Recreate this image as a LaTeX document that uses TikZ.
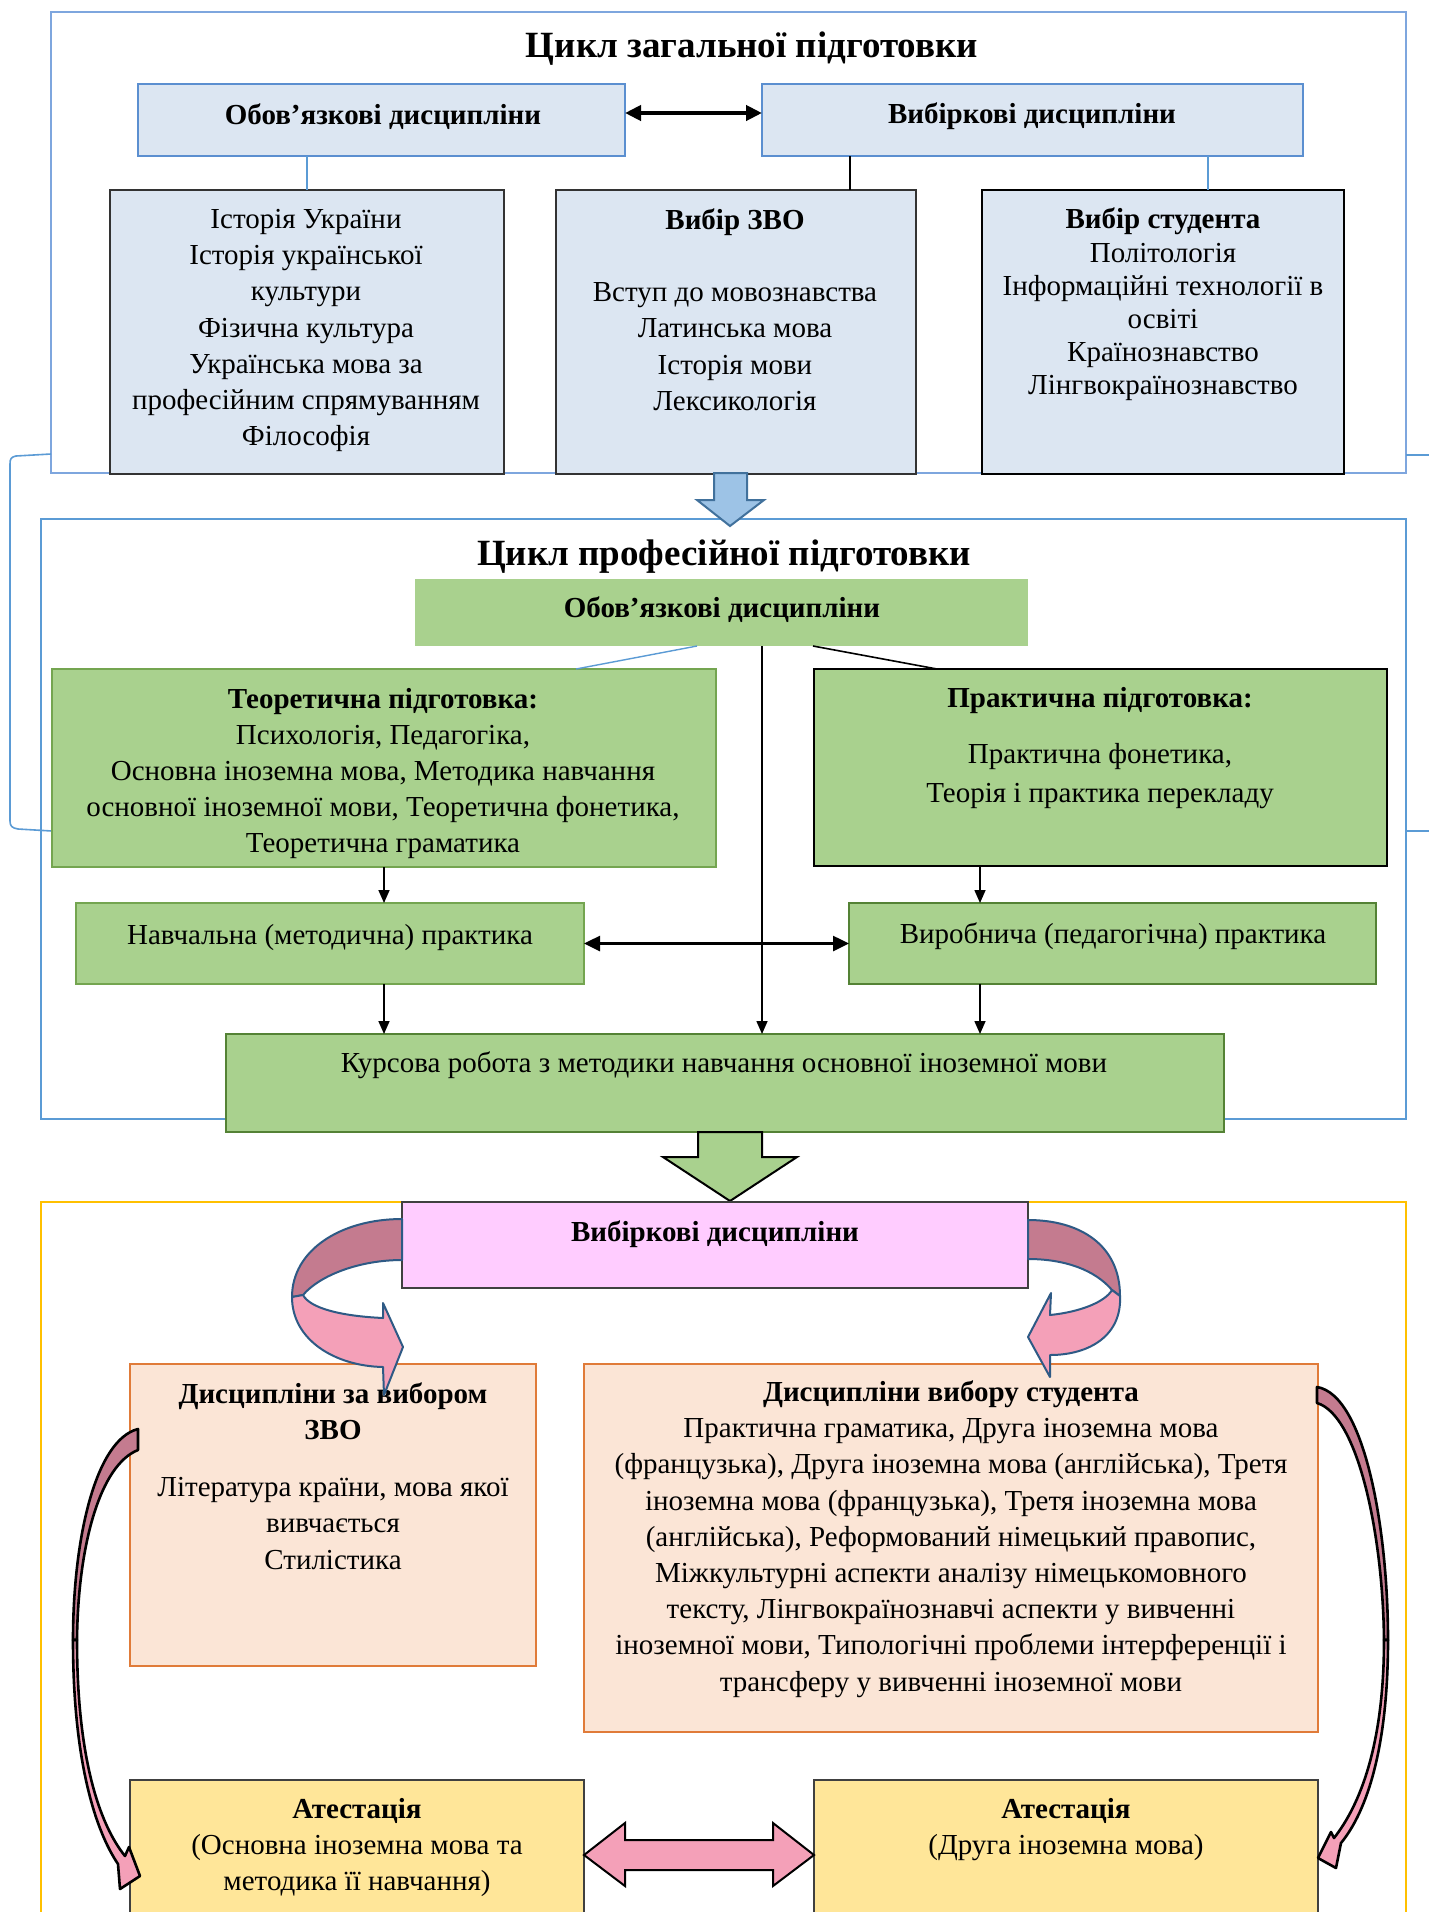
\documentclass[tikz,border=0pt]{standalone}
\usepackage{fontspec}
\setmainfont{Liberation Serif}
\usetikzlibrary{arrows.meta,calc}

\definecolor{lblue}{HTML}{DCE6F2}
\definecolor{mblue}{HTML}{5B8FD0}
\definecolor{oblue}{HTML}{7EA6DE}
\definecolor{o2blue}{HTML}{5B9BD5}
\definecolor{lgreen}{HTML}{A9D18E}
\definecolor{dgreen}{HTML}{548235}
\definecolor{mgreen}{HTML}{74A550}
\definecolor{peach}{HTML}{FBE5D6}
\definecolor{orng}{HTML}{E07B39}
\definecolor{lyel}{HTML}{FFE699}
\definecolor{gold}{HTML}{FFC000}
\definecolor{lpink}{HTML}{FFCCFF}
\definecolor{rosed}{HTML}{C47B8F}
\definecolor{rosel}{HTML}{F4A0B8}
\definecolor{navyb}{HTML}{2E5A85}
\definecolor{arrblue}{HTML}{9DC3E6}
\definecolor{arrblueb}{HTML}{41719C}

\newcommand{\mkbox}[6]{%
  \pgfmathsetmacro{\bxx}{(#3+#5)/2}%
  \pgfmathsetmacro{\bxy}{(#4+#6)/2}%
  \pgfmathsetmacro{\bxw}{(#5-#3)*0.5}%
  \pgfmathsetmacro{\bxh}{(#6-#4)*0.5}%
  \node[boxbase,#2, minimum width=\bxw pt, minimum height=\bxh pt] (#1) at (\bxx,\bxy) {};}

\begin{document}
\begin{tikzpicture}[x=0.5pt,y=-0.5pt,
  font=\fontsize{14.5}{18.1}\selectfont,
  boxbase/.style={rectangle, inner sep=0pt, outer sep=0pt},
  txt/.style={align=center, inner sep=0pt, outer sep=0pt},
  ttl/.style={txt, font=\bfseries\fontsize{18.5}{22}\selectfont},
  outerbox/.style={draw=oblue, line width=1.3pt},
  bluehead/.style={fill=lblue, draw=mblue, line width=1.4pt},
  bluebody/.style={fill=lblue, draw=black!80, line width=0.8pt},
  greenbox/.style={fill=lgreen, draw=mgreen, line width=0.9pt},
  arr/.style={-{Triangle[length=6.5pt,width=5.5pt]}, line width=0.8pt},
  dblarr/.style={{Triangle[length=8pt,width=7.5pt]}-{Triangle[length=8pt,width=7.5pt]}},
]
\useasboundingbox (0,0) rectangle (1429,1912);
\fill[white] (0,0) rectangle (1429,1912);

% ---------- outer frames ----------
\mkbox{outerA}{outerbox}{51}{12}{1406}{473}
\mkbox{outerB}{draw=o2blue, line width=1.3pt}{41}{519}{1406}{1119}
\mkbox{outerC}{draw=gold, line width=1pt}{41}{1202}{1406}{1930}

% side bracket
\draw[o2blue, line width=0.8pt] (outerA.west |- 0,454) -- (16,456) .. controls (11,457) and (10,459) .. (10,464) -- (10,821) .. controls (10,826) and (12,828) .. (18,829) -- (52,831);
\draw[o2blue, line width=0.8pt] (outerA.east |- 0,455) -- (1429,455);
\draw[o2blue, line width=0.8pt] (1406,831) -- (1429,831);

% ---------- cycle 1 ----------
\node[ttl] (title1) at (752,48.5) {Цикл загальної підготовки};

\mkbox{obov1}{bluehead}{138}{84}{625}{156}
\mkbox{vyb1}{bluehead}{762}{84}{1303}{156}
\node[txt, font=\bfseries\fontsize{14.5}{18.1}\selectfont] (obov1t) at (383,116.5) {Обов’язкові дисципліни};
\node[txt, font=\bfseries\fontsize{14.5}{18.1}\selectfont] (vyb1t) at (1032,116.5) {Вибіркові дисципліни};

\mkbox{box1}{bluebody}{110}{190}{504}{474}
\mkbox{box2}{bluebody}{556}{190}{916}{474}
\mkbox{box3}{fill=lblue, draw=black, line width=1.4pt}{982}{190}{1344}{474}

\draw[dblarr, line width=2pt] ([yshift=3.5pt]obov1.east) -- ([yshift=3.5pt]vyb1.west);

\coordinate (c1) at (850,0);
\coordinate (c2) at (1208,0);
\draw[o2blue, line width=0.7pt] (box1.north) -- (box1.north |- obov1.south);
\draw[black, line width=0.8pt] (c1 |- vyb1.south) -- (c1 |- box2.north);
\draw[o2blue, line width=0.7pt] (c2 |- vyb1.south) -- (c2 |- box3.north);

\node[txt] (box1t) at (306,330.5) {Історія України\\Історія української\\культури\\Фізична культура\\Українська мова за\\професійним спрямуванням\\Філософія};
\node[txt] (box2t) at (735,309.5) {\textbf{Вибір ЗВО}\\[18.1pt]Вступ до мовознавства\\Латинська мова\\Історія мови\\Лексикологія};
\node[txt, font=\fontsize{14.5}{16.6}\selectfont] (box3t) at (1163,304.5) {\textbf{Вибір студента}\\Політологія\\Інформаційні технології в\\освіті\\Країнознавство\\Лінгвокраїнознавство};

% blue block arrow
\draw[fill=arrblue, draw=arrblueb, line width=1pt] (714,473) -- (747,473) -- (747,500) -- (764,500) -- (730,526) -- (697,500) -- (714,500) -- cycle;

% ---------- cycle 2 ----------
\node[ttl] (title2) at (724,556.5) {Цикл професійної підготовки};

\mkbox{obov2}{fill=lgreen}{415}{579}{1028}{646}
\node[txt, font=\bfseries\fontsize{14.5}{18.1}\selectfont] (obov2t) at (722,609.5) {Обов’язкові дисципліни};

\mkbox{teor}{greenbox}{52}{669}{716}{867}
\mkbox{prak}{fill=lgreen, draw=black, line width=1.4pt}{814}{669}{1387}{866}
\mkbox{nav}{fill=lgreen, draw=mgreen, line width=1pt}{76}{903}{584}{984}
\mkbox{virob}{fill=lgreen, draw=dgreen, line width=1.4pt}{849}{903}{1376}{984}
\mkbox{kurs}{fill=lgreen, draw=dgreen, line width=1.4pt}{226}{1034}{1224}{1132}

\node[txt] (teort) at (383,773.5) {\textbf{Теоретична підготовка:}\\Психологія, Педагогіка,\\Основна іноземна мова, Методика навчання\\основної іноземної мови, Теоретична фонетика,\\Теоретична граматика};
\node[txt, font=\fontsize{14.5}{19.5}\selectfont] (prakt) at (1100,748) {\textbf{Практична підготовка:}\\[8.5pt]Практична фонетика,\\Теорія і практика перекладу};
\node[txt] (navt) at (330,937.5) {Навчальна (методична) практика};
\node[txt] (virobt) at (1113,936.5) {Виробнича (педагогічна) практика};
\node[txt] (kurst) at (724,1065.5) {Курсова робота з методики навчання основної іноземної мови};

\coordinate (c3) at (697,0);
\coordinate (c4) at (576,0);
\coordinate (c5) at (813,0);
\coordinate (c6) at (937,0);
\coordinate (c7) at (762,0);
\coordinate (c8) at (980,0);
\draw[o2blue, line width=0.7pt] (c3 |- obov2.south) -- (c4 |- teor.north);
\draw[black, line width=0.8pt] (c5 |- obov2.south) -- (c6 |- prak.north);
\draw[arr] (c7 |- obov2.south) -- (c7 |- kurs.north);
\draw[arr] (teor.south) -- (teor.south |- nav.north);
\draw[arr] (c8 |- prak.south) -- (c8 |- virob.north);
\draw[dblarr, line width=1.3pt] (nav.east) -- (virob.west);
\draw[arr] (teor.south |- nav.south) -- (teor.south |- kurs.north);
\draw[arr] (c8 |- virob.south) -- (c8 |- kurs.north);

% green block arrow
\draw[fill=lgreen, draw=black, line width=1pt] (698,1132) -- (762,1132) -- (762,1157) -- (797,1157) -- (730,1201) -- (663,1157) -- (698,1157) -- cycle;

% ---------- elective part ----------
\mkbox{vybir}{fill=lpink, draw=black!75, line width=1pt}{402}{1202}{1028}{1288}
\node[txt, font=\bfseries\fontsize{14.5}{18.1}\selectfont] (vybirt) at (715,1234) {Вибіркові дисципліни};

\mkbox{dzvo}{fill=peach, draw=orng, line width=0.9pt}{130}{1364}{536}{1666}
\mkbox{dstud}{fill=peach, draw=orng, line width=0.9pt}{584}{1364}{1318}{1732}
\mkbox{att1}{fill=lyel, draw=black!75, line width=0.9pt}{130}{1780}{584}{1930}
\mkbox{att2}{fill=lyel, draw=black!75, line width=0.9pt}{814}{1780}{1318}{1930}

\node[txt] (dzvot) at (333,1476) {\textbf{Дисципліни за вибором}\\\textbf{ЗВО}\\[10.5pt]Література країни, мова якої\\вивчається\\Стилістика};
\node[txt] (dstudt) at (951,1539) {\textbf{Дисципліни вибору студента}\\Практична граматика, Друга іноземна мова\\(французька), Друга іноземна мова (англійська), Третя\\іноземна мова (французька), Третя іноземна мова\\(англійська), Реформований німецький правопис,\\Міжкультурні аспекти аналізу німецькомовного\\тексту, Лінгвокраїнознавчі аспекти у вивченні\\іноземної мови, Типологічні проблеми інтерференції і\\трансферу у вивченні іноземної мови};
\node[txt] (att1t) at (357,1847.5) {\textbf{Атестація}\\(Основна іноземна мова та\\методика її навчання)};
\node[txt] (att2t) at (1066,1829.5) {\textbf{Атестація}\\(Друга іноземна мова)};

% short curved arrows
\draw[fill=rosed, draw=navyb, line width=1pt, line join=round] (402,1219) .. controls (341,1219) and (292,1250) .. (292,1297) -- (303,1295) .. controls (320,1275) and (360,1260) .. (402,1260) -- cycle;
\draw[fill=rosel, draw=navyb, line width=1pt, line join=round] (292,1297) .. controls (292,1340) and (335,1366) .. (383,1367) -- (384,1395) -- (403,1347) -- (383,1303) -- (383,1318) .. controls (340,1316) and (310,1308) .. (303,1295) -- cycle;

\draw[fill=rosed, draw=navyb, line width=1pt, line join=round] (1028,1220) .. controls (1080,1220) and (1120,1245) .. (1120,1296) -- (1112,1290) .. controls (1095,1270) and (1065,1259) .. (1028,1259) -- cycle;
\draw[fill=rosel, draw=navyb, line width=1pt, line join=round] (1120,1296) .. controls (1122,1335) and (1090,1355) .. (1050,1355) -- (1050,1377) -- (1028,1337) -- (1051,1293) -- (1050,1315) .. controls (1080,1312) and (1105,1302) .. (1112,1290) -- cycle;

% long curved arrows
\draw[fill=rosed, draw=black, line width=1.3pt, line join=round] (138,1429) .. controls (95,1440) and (73,1540) .. (73,1640) -- (77,1640) .. controls (78,1545) and (100,1465) .. (138,1450) -- cycle;
\draw[fill=rosel, draw=black, line width=1.3pt, line join=round] (73,1640) .. controls (73,1760) and (95,1830) .. (118,1864) -- (120,1889) -- (140,1876) -- (129,1847) -- (125,1856) .. controls (100,1825) and (77,1760) .. (77,1640) -- cycle;

\draw[fill=rosed, draw=black, line width=1.3pt, line join=round] (1317,1387) .. controls (1365,1395) and (1388,1530) .. (1388,1640) -- (1384,1640) .. controls (1383,1535) and (1358,1415) .. (1317,1403) -- cycle;
\draw[fill=rosel, draw=black, line width=1.3pt, line join=round] (1388,1640) .. controls (1388,1745) and (1368,1810) .. (1341,1843) -- (1336,1868) -- (1318,1858) -- (1331,1832) -- (1334,1838) .. controls (1360,1805) and (1384,1745) .. (1384,1640) -- cycle;

% pink double block arrow
\draw[fill=rosel, draw=black, line width=1pt, line join=miter] (att1.east |- 0,1855) -- (625,1823) -- (625,1840) -- (773,1840) -- (773,1823) -- (att2.west |- 0,1855) -- (773,1886) -- (773,1870) -- (625,1870) -- (625,1886) -- cycle;
\end{tikzpicture}
\end{document}
